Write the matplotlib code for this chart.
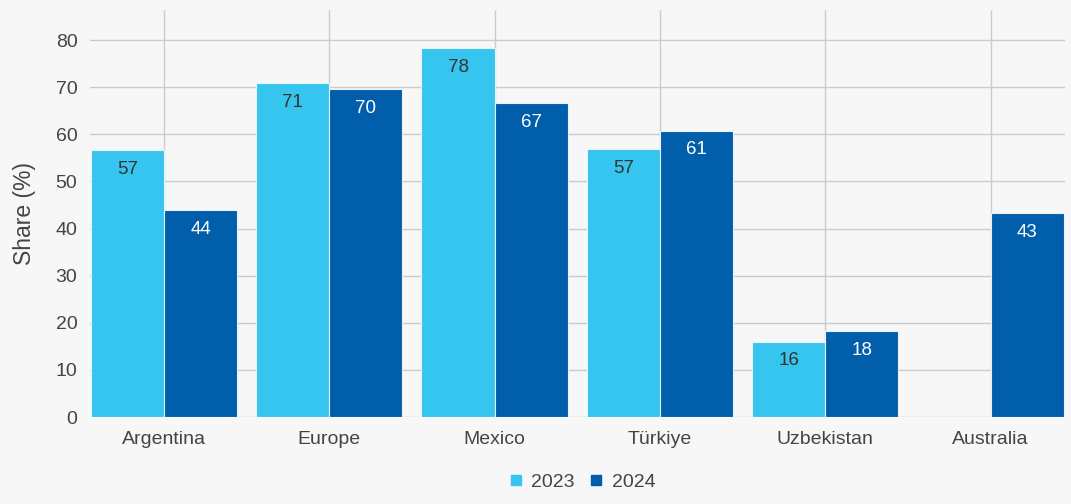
import matplotlib
matplotlib.use("Agg")
import matplotlib.pyplot as plt
import numpy as np

plt.rcParams['font.family'] = ['Liberation Sans', 'DejaVu Sans']

categories = ["Argentina", "Europe", "Mexico", "Türkiye", "Uzbekistan", "Australia"]
share_2023 = [56.6, 70.9, 78.3, 56.8, 16.0, None]
share_2024 = [44.0, 69.6, 66.7, 60.8, 18.2, 43.3]
series_labels = ["2023", "2024"]
y_ticks = [0, 10, 20, 30, 40, 50, 60, 70, 80]

light_blue = "#35c5ef"
dark_blue = "#005eaa"
bg = "#f7f7f7"

fig = plt.figure(figsize=(10.71, 5.04), dpi=100, facecolor=bg)
ax = fig.add_axes([0.084, 0.1726, 0.91, 0.8075], facecolor=bg)

x = np.arange(len(categories))
w = 0.4425

def draw_series(values, offset, color, text_color):
    for xi, v in zip(x, values):
        if v is None:
            continue
        ax.bar(xi + offset, v, width=w, color=color, edgecolor="#e6f3fa",
               linewidth=0.8, zorder=3)
        ax.text(xi + offset, v - 4.1, f"{v:.0f}", ha="center", va="center",
                fontsize=13.5, color=text_color, zorder=4)

draw_series(share_2023, -w / 2, light_blue, "#333333")
draw_series(share_2024, w / 2, dark_blue, "white")

ax.set_xlim(-0.448, len(categories) - 1 + 0.448)
ax.set_ylim(0, 86.4)
ax.set_yticks(y_ticks)
ax.set_xticks(x)
ax.set_xticklabels(categories)
ax.tick_params(axis="both", length=0, labelsize=14, colors="#444444")
ax.tick_params(axis="y", pad=9)
ax.tick_params(axis="x", pad=10)
ax.grid(True, color="#cccccc", linewidth=1, zorder=0)
for s in ax.spines.values():
    s.set_visible(False)
ax.set_ylabel("Share (%)", fontsize=16.5, color="#444444", labelpad=14)

handles = [plt.Line2D([], [], marker="s", linestyle="none", markersize=7,
                      markerfacecolor=c, markeredgecolor=c)
           for c in (light_blue, dark_blue)]
leg = fig.legend(handles, series_labels, loc="center", bbox_to_anchor=(0.542, 0.043),
                 ncol=2, frameon=False, fontsize=14, handletextpad=0.3,
                 columnspacing=0.6, handlelength=1.0)
for t in leg.get_texts():
    t.set_color("#444444")

fig.savefig("out.png", dpi=100, facecolor=bg)
